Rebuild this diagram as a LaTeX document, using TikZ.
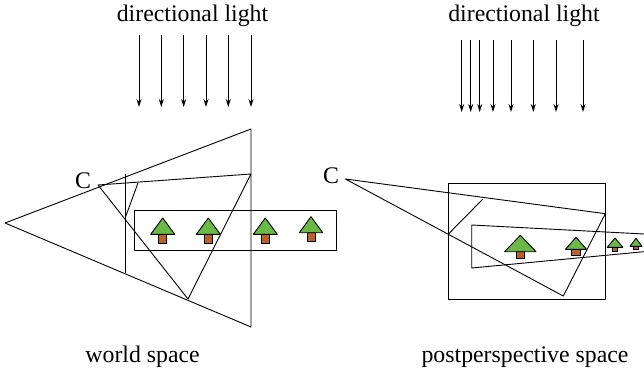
\documentclass[tikz,border=0pt]{standalone}
\usepackage{fontspec}
\setmainfont{Liberation Serif}
\usetikzlibrary{arrows.meta}
\definecolor{treegreen}{RGB}{106,185,69}
\definecolor{trunkbrown}{RGB}{186,96,40}
\tikzset{
    lbl/.style={font=\fontsize{23.8}{26}\selectfont, inner sep=0pt, anchor=base},
    ray/.style={-{Stealth[length=8pt,width=5pt]}, line width=0.9pt},
    edge/.style={line width=0.9pt, line join=round}
}
% apex x, apex y, half width, base y, trunk half width, trunk bottom y
\newcommand{\tree}[6]{
    \fill[trunkbrown, draw=black, line width=0.9pt] (#1-#5,#4) rectangle (#1+#5,#6);
    \fill[treegreen, draw=black, line width=0.9pt, line join=round] (#1,#2) -- (#1+#3,#4) -- (#1-#3,#4) -- cycle;
}
\begin{document}
\begin{tikzpicture}[x=1pt,y=-1pt]
    \useasboundingbox (0,0) rectangle (644,374);

    \node[lbl] (lightL) at (192.5,22) {directional light};
    \node[lbl] (lightR) at (524,22) {directional light};
    \node[lbl] (camL) at (83,188.7) {C};
    \node[lbl] (camR) at (331,183.3) {C};
    \node[lbl] (worldlbl) at (142.6,362.7) {world space};
    \node[lbl] (postlbl) at (525,362.7) {postperspective space};

    \foreach \x in {139,161.3,183.7,206,228.3,251}
        \draw[ray] (\x,35) -- (\x,107);
    \foreach \x in {461.7,470.7,479.7,493,511,533.3,556,583}
        \draw[ray] (\x,40) -- (\x,112);

    % world space
    \draw[edge] (5,223) -- (251,129) -- (251,327) -- cycle;
    \draw[edge] (125.5,174) -- (125.5,273);
    \draw[edge] (98,185) -- (251,174) -- (188,299) -- cycle;
    \draw[edge] (138,183) -- (125.5,217);
    \draw[edge] (134.5,210) rectangle (336.5,250);
    \tree{162.7}{218}{12}{234.3}{4}{243}
    \tree{208.3}{218}{12}{234.3}{4}{243}
    \tree{265.3}{218}{12}{234.3}{4}{243}
    \tree{311}{216.7}{11.7}{232.7}{4}{241.3}

    % postperspective space
    \draw[edge] (448.3,183) rectangle (605.3,299.7);
    \draw[edge] (345.3,179) -- (605.3,213.7) -- (563.3,296) -- cycle;
    \draw[edge] (482.7,199.3) -- (448.7,233.7);
    \draw[edge] (644,234) -- (471.7,225) -- (471.7,268) -- (644,251.7);
    \tree{520.3}{235.3}{15.7}{251.7}{4.3}{258.7}
    \tree{576}{237.3}{10.5}{249.3}{4.3}{255}
    \tree{615}{238}{7.8}{247.3}{2.7}{251.7}
    \tree{636}{238.3}{6}{246.3}{2.2}{249.7}
\end{tikzpicture}
\end{document}
